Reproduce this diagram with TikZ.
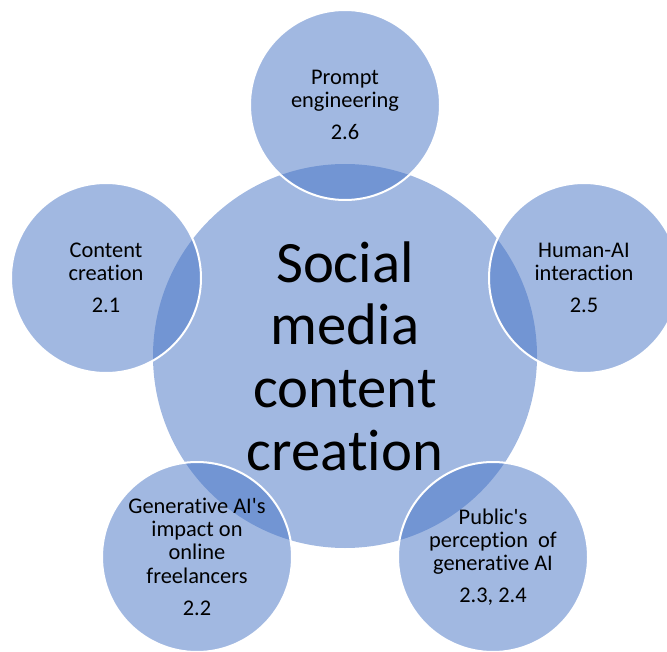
\documentclass[tikz,border=0pt]{standalone}
\usepackage{fontspec}
\setmainfont{Carlito}[RawFeature={-liga;-clig;-calt;-dlig}]
\usetikzlibrary{shapes,positioning}
\definecolor{vennblue}{HTML}{4472C4}
\tikzset{
  hubcircle/.style={circle, fill=vennblue, fill opacity=0.5, text opacity=1, minimum size=288pt, inner sep=0pt, align=center, font=\fontsize{44}{47}\selectfont},
  topiccircle/.style={circle, fill=vennblue, fill opacity=0.5, draw=white, draw opacity=1, line width=1.5pt, text opacity=1, minimum size=142.5pt, inner sep=0pt, align=center, font=\fontsize{16.8}{17.3}\selectfont}
}

\begin{document}
\begin{tikzpicture}[x=0.75pt,y=0.75pt,yscale=-1,xscale=1]
\useasboundingbox (0,0) rectangle (667,652);

%Shape: Circle [centre]
\node[hubcircle] (hub) at (345,356) {Social\\media\\content\\creation};

%Shape: Circle [top]
\node[topiccircle] (prompt) at (345,105) {Prompt\\engineering\\[7pt]2.6};
%Shape: Circle [left]
\node[topiccircle] (content) at (106,278) {Content\\creation\\[7pt]2.1};
%Shape: Circle [right]
\node[topiccircle] (human) at (584,278) {Human-AI\\interaction\\[7pt]2.5};
%Shape: Circle [bottom left]
\node[topiccircle] (freelance) at (197,557) {Generative AI\textquotesingle s\\impact on\\online\\freelancers\\[7pt]2.2};
%Shape: Circle [bottom right]
\node[topiccircle] (public) at (493,557) {Public\textquotesingle s\\perception\ \ of\\generative AI\\[7pt]2.3, 2.4};

\end{tikzpicture}
\end{document}
